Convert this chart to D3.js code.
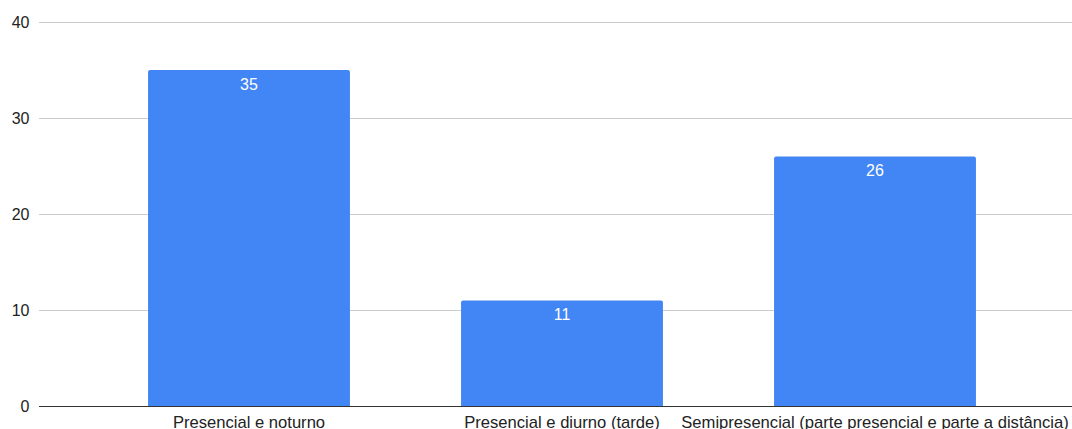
<!DOCTYPE html>
<html><head><meta charset="utf-8">
<script src="https://cdn.jsdelivr.net/npm/d3@7"></script>
<style>body{margin:0;background:#fff}svg{display:block;font-family:"Liberation Sans",Arial,sans-serif}</style>
</head><body>
<svg id="c" width="1072" height="429"></svg>
<script>
const categories = ["Presencial e noturno", "Presencial e diurno (tarde)", "Semipresencial (parte presencial e parte a distância)"];
const values = [35, 11, 26];
const yTicks = [0, 10, 20, 30, 40];

const svg = d3.select("#c");
const x = d3.scaleBand().domain(categories).range([92.5, 1031.5]).paddingInner(0.355).paddingOuter(0.1775);
const y = d3.scaleLinear().domain([0, 40]).range([406, 22]);

// gridlines
svg.append("g").selectAll("line").data(yTicks.filter(d => d !== 0)).join("line")
  .attr("x1", 39).attr("x2", 1072)
  .attr("y1", d => y(d) + 0.5).attr("y2", d => y(d) + 0.5)
  .attr("stroke", "#cccccc").attr("stroke-width", 1);

// y tick labels
svg.append("g").selectAll("text").data(yTicks).join("text")
  .attr("x", 29.5).attr("y", d => y(d) + 6)
  .attr("text-anchor", "end").attr("font-size", 16).attr("fill", "#222")
  .text(d => d);

// bars
svg.append("g").selectAll("path").data(values).join("path")
  .attr("fill", "#4285f4")
  .attr("d", (d, i) => {
    const x0 = x(categories[i]), w = x.bandwidth(), y0 = y(d), y1 = y(0), r = 2;
    return `M${x0},${y1}V${y0 + r}Q${x0},${y0} ${x0 + r},${y0}H${x0 + w - r}Q${x0 + w},${y0} ${x0 + w},${y0 + r}V${y1}Z`;
  });

// value labels
svg.append("g").selectAll("text").data(values).join("text")
  .attr("x", (d, i) => x(categories[i]) + x.bandwidth() / 2)
  .attr("y", d => y(d) + 20)
  .attr("text-anchor", "middle").attr("font-size", 16).attr("fill", "#ffffff")
  .text(d => d);

// baseline
svg.append("line").attr("x1", 39).attr("x2", 1072).attr("y1", y(0) + 0.5).attr("y2", y(0) + 0.5)
  .attr("stroke", "#333333").attr("stroke-width", 1);

// x labels
svg.append("g").selectAll("text").data(categories).join("text")
  .attr("x", d => x(d) + x.bandwidth() / 2).attr("y", 428)
  .attr("text-anchor", "middle").attr("font-size", 16.6).attr("fill", "#222")
  .text(d => d);
</script>
</body></html>
